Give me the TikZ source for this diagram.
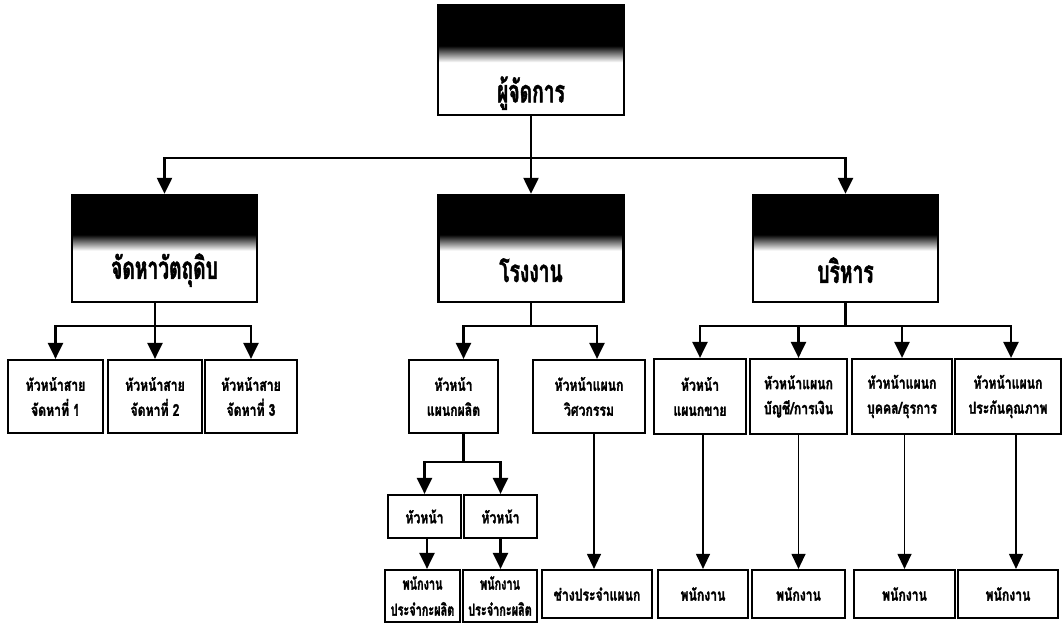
\documentclass[tikz,border=0pt]{standalone}
\usepackage{fontspec}
\newfontfamily\thaihdr[Script=Thai,FakeStretch=0.62,FakeBold=1.5]{Loma}
\newfontfamily\thaibox[Script=Thai,FakeStretch=0.74,FakeBold=1.6]{Loma}
\newfontfamily\thainarrow[Script=Thai,FakeStretch=0.66,FakeBold=1.6]{Loma}
\usetikzlibrary{arrows.meta,calc}

\newcommand\hdrfont{\thaihdr\bfseries\fontsize{31}{34}\selectfont}
\newcommand\boxfont{\thaibox\bfseries\fontsize{16.5}{25}\selectfont}
\newcommand\narrowfont{\thainarrow\bfseries\fontsize{16.5}{26}\selectfont}

\tikzset{
  box/.style={draw, line width=2.2pt, inner sep=1pt, align=center, font=\boxfont},
  shiftbox/.style={box, inner sep=0pt, font=\narrowfont},
  hdr/.style={box, line width=2.4pt, path picture={
      \fill[black] (path picture bounding box.north west) rectangle
        ($(path picture bounding box.north east)!0.38!(path picture bounding box.south east)$);
      \shade[top color=black, bottom color=white]
        ($(path picture bounding box.north west)!0.37!(path picture bounding box.south west)$) rectangle
        ($(path picture bounding box.north east)!0.52!(path picture bounding box.south east)$);
  }},
  hdrtext/.style={inner sep=0pt, font=\hdrfont},
  lw/.style={line width=2.4pt},
  arr/.style={lw, -{Triangle[length=16pt,width=15pt]}},
  thinarr/.style={line width=1.2pt, -{Triangle[length=15pt,width=14pt]}}
}

\begin{document}
\begin{tikzpicture}[x=1pt,y=-1pt]
\useasboundingbox (0,0) rectangle (1062,623);

% manager
\node[hdr, minimum width=186, minimum height=110] (top) at (531,60) {};
\node[hdrtext] (top-t) at ($(top.south)+(0,-23)$) {ผู้จัดการ};

% divisions
\node[hdr, minimum width=185, minimum height=107] (raw) at (164.5,248.5) {};
\node[hdr, minimum width=185, minimum height=107] (fac) at (531,248.5) {};
\node[hdr, minimum width=185, minimum height=107] (adm) at (845.5,248.5) {};
\node[hdrtext] (raw-t) at ($(raw.south)+(0,-33)$) {จัดหาวัตถุดิบ};
\node[hdrtext] (fac-t) at ($(fac.south)+(0,-33)$) {โรงงาน};
\node[hdrtext] (adm-t) at ($(adm.south)+(0,-33)$) {บริหาร};

% purchasing line heads
\node[box, minimum width=95, minimum height=73] (r1) at (55.5,396.5) {หัวหน้าสาย\\จัดหาที่ 1};
\node[box, minimum width=94, minimum height=73] (r2) at (155,396.5) {หัวหน้าสาย\\จัดหาที่ 2};
\node[box, minimum width=92, minimum height=73] (r3) at (251,396.5) {หัวหน้าสาย\\จัดหาที่ 3};

% factory department heads
\node[box, minimum width=89, minimum height=73] (ph) at (453.5,396.5) {หัวหน้า\\แผนกผลิต};
\node[box, minimum width=112, minimum height=73] (eh) at (589,396.5) {หัวหน้าแผนก\\วิศวกรรม};

% production shift heads
\node[box, minimum width=73, minimum height=43] (s1) at (424.5,516.5) {หัวหน้า};
\node[box, minimum width=73, minimum height=43] (s2) at (500.5,516.5) {หัวหน้า};

% administration department heads
\node[box, minimum width=92, minimum height=75] (a1) at (700,396.5) {หัวหน้า\\แผนกขาย};
\node[box, minimum width=97, minimum height=75] (a2) at (798.5,396.5) {หัวหน้าแผนก\\บัญชี/การเงิน};
\node[box, minimum width=100, minimum height=75] (a3) at (902,396.5) {หัวหน้าแผนก\\บุคคล/ธุรการ};
\node[box, minimum width=106, minimum height=75] (a4) at (1008,396.5) {หัวหน้าแผนก\\ประกันคุณภาพ};

% staff row
\node[shiftbox, minimum width=75, minimum height=52] (p1) at (422.5,596) {พนักงาน\\ประจำกะผลิต};
\node[shiftbox, minimum width=74, minimum height=52] (p2) at (500,596) {พนักงาน\\ประจำกะผลิต};
\node[box, minimum width=110, minimum height=48] (tech) at (597,594) {ช่างประจำแผนก};
\node[box, minimum width=90, minimum height=48] (e1) at (703,594) {พนักงาน};
\node[box, minimum width=93, minimum height=48] (e2) at (798.5,594) {พนักงาน};
\node[box, minimum width=101, minimum height=48] (e3) at (904.5,594) {พนักงาน};
\node[box, minimum width=100, minimum height=48] (e4) at (1008,594) {พนักงาน};

% bus levels
\coordinate (bus0) at (0,158);
\coordinate (bus1) at (0,326);
\coordinate (bus2) at (0,462);

% manager -> divisions
\draw[arr] (top.south) -- (fac.north);
\draw[arr] (fac.north |- bus0) -| (raw.north);
\draw[arr] (fac.north |- bus0) -| (adm.north);

% purchasing
\draw[lw] (raw.south -| r2.north) -- (r2.north |- bus1);
\draw[arr] (r2.north |- bus1) -- (r2.north);
\draw[arr] (r2.north |- bus1) -| (r1.north);
\draw[arr] (r2.north |- bus1) -| (r3.north);

% factory
\coordinate (ph-in) at ($(ph.north)+(10,0)$);
\coordinate (eh-in) at ($(eh.north)+(8,0)$);
\draw[lw] (fac.south) -- (fac.south |- bus1);
\draw[arr] (fac.south |- bus1) -| (ph-in);
\draw[arr] (fac.south |- bus1) -| (eh-in);

% production
\coordinate (ph-out) at ($(ph.south)+(10,0)$);
\draw[lw] (ph-out) -- (ph-out |- bus2);
\draw[arr] (ph-out |- bus2) -| (s1.north);
\draw[arr] (ph-out |- bus2) -| (s2.north);
\coordinate (s1-out) at ($(s1.south)+(2.5,0)$);
\draw[arr] (s1-out) -- (s1-out |- p1.north);
\draw[arr] (s2.south) -- (s2.south |- p2.north);

% engineering
\coordinate (eh-out) at ($(eh.south)+(5,0)$);
\draw[thinarr] (eh-out) -- (eh-out |- tech.north);

% administration
\draw[lw] (adm.south) -- (adm.south |- bus1);
\draw[arr] (adm.south |- bus1) -| (a1.north);
\draw[arr] (adm.south |- bus1) -| (a2.north);
\draw[arr] (adm.south |- bus1) -| (a3.north);
\draw[arr] (adm.south |- bus1) -| ($(a4.north)+(3,0)$);

\draw[thinarr] (a1.south -| e1.north) -- (e1.north);
\draw[thinarr] (a2.south -| e2.north) -- (e2.north);
\draw[thinarr] (a3.south -| e3.north) -- (e3.north);
\coordinate (a4-out) at ($(e4.north)+(8,0)$);
\draw[thinarr] (a4.south -| a4-out) -- (a4-out);
\end{tikzpicture}
\end{document}
